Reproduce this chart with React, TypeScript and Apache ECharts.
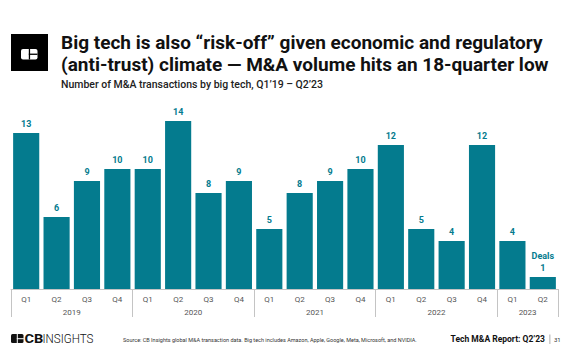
import React, { useEffect, useRef } from "react";
import * as echarts from "echarts";

const quarters = ["Q1","Q2","Q3","Q4","Q1","Q2","Q3","Q4","Q1","Q2","Q3","Q4","Q1","Q2","Q3","Q4","Q1","Q2"];
const deals = [13, 6, 9, 10, 10, 14, 8, 9, 5, 8, 9, 10, 12, 5, 4, 12, 4, 1];
const years = ["2019", "2020", "2021", "2022", "2023"];
const yearBoundaries = [0, 4, 8, 12, 16, 18];
const yearCenters = [2, 6, 10, 14, 17];

const TEAL = "#047b8e";
const FONT = "Roboto, 'Noto Sans', sans-serif";

export default function App() {
  const ref = useRef<HTMLDivElement>(null);
  useEffect(() => {
    if (!ref.current) return;
    const chart = echarts.init(ref.current, null, { renderer: "svg" });
    chart.setOption({
      animation: false,
      backgroundColor: "#ffffff",
      textStyle: { fontFamily: FONT },
      grid: { left: 11, right: 14, top: 121, bottom: 75, containLabel: false },
      xAxis: [
        {
          type: "category",
          data: quarters,
          axisLine: { show: true, lineStyle: { color: "#c4c4c4", width: 1 } },
          axisTick: { show: false },
          axisLabel: { color: "#555", fontSize: 8, margin: 6, fontFamily: FONT },
        },
        {
          type: "value",
          position: "bottom",
          min: 0,
          max: 18,
          interval: 1,
          axisLine: { show: false },
          splitLine: { show: false },
          axisTick: {
            show: true,
            customValues: yearBoundaries,
            length: 28,
            lineStyle: { color: "#c4c4c4", width: 1 },
          },
          axisLabel: {
            show: true,
            customValues: yearCenters,
            color: "#555",
            fontSize: 8,
            margin: 19,
            fontFamily: FONT,
            formatter: (v: number) => {
              const i = yearCenters.indexOf(Math.round(v));
              return i >= 0 ? years[i] : "";
            },
          },
        },
      ],
      yAxis: {
        type: "value",
        min: 0,
        max: 14,
        show: false,
        splitLine: { show: false },
      },
      series: [
        {
          type: "bar",
          xAxisIndex: 0,
          data: deals,
          barCategoryGap: "14%",
          itemStyle: { color: TEAL },
          label: {
            show: true,
            position: "top",
            distance: 3,
            color: TEAL,
            fontSize: 9,
            fontWeight: "bold",
            fontFamily: FONT,
            lineHeight: 12,
            formatter: (p: any) =>
              p.dataIndex === deals.length - 1 ? "Deals\n" + p.value : String(p.value),
          },
        },
      ],
      graphic: [
        { type: "rect", shape: { x: 11, y: 34, width: 37, height: 37 }, style: { fill: "#000" } },
        { type: "rect", shape: { x: 21, y: 49, width: 16.5, height: 10.5, r: 2 }, style: { fill: "#fff" } },
        { type: "rect", shape: { x: 28.8, y: 49, width: 1.3, height: 10.5 }, style: { fill: "#000" } },
        { type: "rect", shape: { x: 28.8, y: 53.6, width: 8.7, height: 1.3 }, style: { fill: "#000" } },
        {
          type: "text",
          x: 61,
          y: 42.5,
          style: {
            text: "Big tech is also \u201crisk-off\u201d given economic and regulatory",
            font: "bold 19px " + FONT,
            fill: "#111",
            verticalAlign: "middle",
          },
        },
        {
          type: "text",
          x: 61,
          y: 64,
          style: {
            text: "(anti-trust) climate \u2014 M&A volume hits an 18-quarter low",
            font: "bold 19px " + FONT,
            fill: "#111",
            verticalAlign: "middle",
          },
        },
        {
          type: "text",
          x: 61,
          y: 84.7,
          style: {
            text: "Number of M&A transactions by big tech, Q1\u201919 \u2013 Q2\u201923",
            font: "500 10.5px " + FONT,
            fill: "#222",
            verticalAlign: "middle",
          },
        },
        // footer logo
        { type: "rect", shape: { x: 11, y: 334, width: 12.5, height: 9, r: 1.5 }, style: { fill: "#111" } },
        { type: "rect", shape: { x: 16.8, y: 334, width: 1, height: 9 }, style: { fill: "#fff" } },
        { type: "rect", shape: { x: 16.8, y: 338.2, width: 7, height: 1 }, style: { fill: "#fff" } },
        {
          type: "text",
          x: 24.5,
          y: 338.5,
          scaleX: 1.08,
          style: { text: "CB", font: "bold 13.5px " + FONT, fill: "#111", verticalAlign: "middle" },
        },
        {
          type: "text",
          x: 42.5,
          y: 338.5,
          scaleX: 0.86,
          style: { text: "INSIGHTS", font: "300 13.5px " + FONT, fill: "#111", verticalAlign: "middle" },
        },
        {
          type: "text",
          x: 123,
          y: 340,
          style: {
            text: "Source: CB Insights global M&A transaction data. Big tech includes Amazon, Apple, Google, Meta, Microsoft, and NVIDIA.",
            font: "5.5px " + FONT,
            fill: "#333",
            verticalAlign: "middle",
          },
        },
        {
          type: "text",
          x: 545,
          y: 339.3,
          style: {
            text: "Tech M&A Report: Q2\u201923",
            font: "bold 8.5px " + FONT,
            fill: "#111",
            align: "right",
            verticalAlign: "middle",
          },
        },
        { type: "rect", shape: { x: 549.5, y: 334.5, width: 0.8, height: 9.5 }, style: { fill: "#999" } },
        {
          type: "text",
          x: 554,
          y: 339.5,
          style: { text: "31", font: "6px " + FONT, fill: "#333", verticalAlign: "middle" },
        },
      ],
    });
    return () => chart.dispose();
  }, []);
  return <div ref={ref} style={{ width: 572, height: 364, position: "absolute", left: 0, top: 0 }} />;
}
